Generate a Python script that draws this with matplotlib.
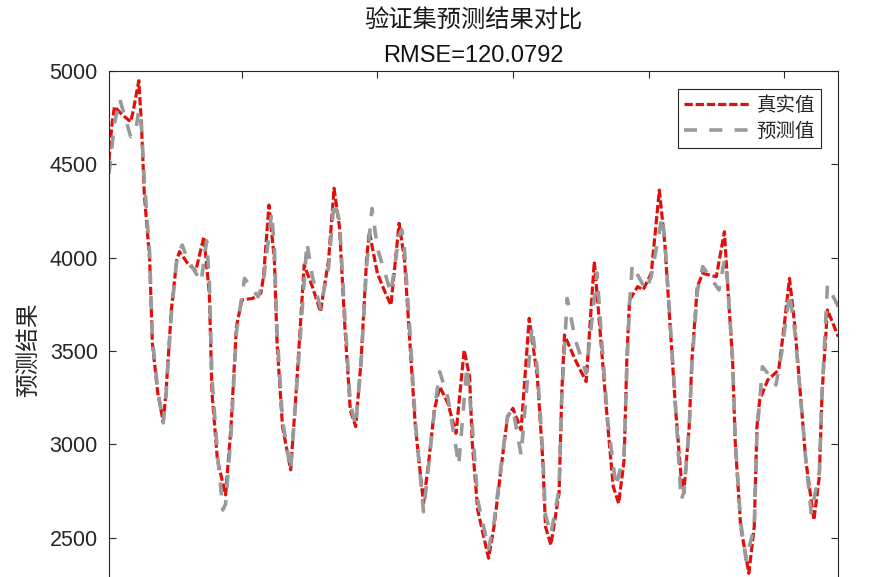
import matplotlib
matplotlib.use('Agg')
import matplotlib.pyplot as plt
from matplotlib.font_manager import FontProperties

plt.rcParams['font.family'] = ['Liberation Sans', 'Noto Sans CJK SC', 'DejaVu Sans']

# ---------------- data ----------------
x_true = [1, 2, 3, 6, 9, 10, 12, 13, 14, 16, 17, 19, 21, 22, 24, 26, 27, 30, 33, 36,
          38, 39, 41, 44, 46, 48, 50, 54, 57, 58, 60, 62, 63, 65, 68, 70, 73, 76, 79, 82,
          84, 86, 88, 90, 92, 94, 96, 97, 100, 103, 105, 108, 110, 112, 114, 117, 119, 121, 123, 126,
          129, 132, 134, 135, 137, 141, 143, 146, 148, 150, 153, 156, 159, 161, 162, 164, 167, 168, 169, 173,
          177, 180, 181, 183, 185, 187, 189, 191, 192, 193, 196, 198, 201, 204, 206, 208, 210, 212, 213, 215,
          216, 218, 220, 225, 228, 229, 231, 232, 234, 237, 239, 240, 241, 244, 248, 250, 252, 254, 256, 258,
          261, 263, 264, 266, 270]
y_true = [4523, 4702, 4809, 4764, 4728, 4791, 4948, 4702, 4345, 3988, 3541, 3273, 3121, 3273, 3720, 3988, 4032, 3970, 3930, 4112,
          3809, 3273, 2916, 2729, 3095, 3630, 3773, 3782, 3809, 3898, 4282, 3988, 3541, 3095, 2863, 3273, 3961, 3845, 3711, 3988,
          4372, 4166, 3630, 3184, 3095, 3452, 3988, 4139, 3916, 3809, 3746, 4184, 3988, 3541, 3095, 2684, 2916, 3184, 3309, 3220,
          3059, 3505, 3362, 3005, 2648, 2390, 2559, 2916, 3148, 3193, 3077, 3675, 3362, 2916, 2559, 2461, 2738, 3273, 3586, 3452,
          3336, 3979, 3809, 3452, 3095, 2773, 2684, 2916, 3452, 3773, 3845, 3827, 3916, 4362, 4077, 3630, 3184, 2827, 2738, 3095,
          3452, 3845, 3916, 3898, 4139, 3898, 3452, 3005, 2559, 2309, 2559, 3095, 3238, 3345, 3398, 3630, 3889, 3630, 3273, 2916,
          2595, 2827, 3273, 3720, 3577]

x_pred = [1, 2, 3, 5, 9, 11, 12, 13, 14, 16, 17, 19, 21, 22, 24, 26, 28, 30, 35, 37,
          38, 39, 41, 43, 44, 46, 48, 51, 56, 58, 61, 62, 63, 65, 68, 70, 74, 76, 79, 82,
          84, 86, 88, 90, 92, 94, 96, 98, 100, 105, 108, 109, 110, 112, 114, 117, 119, 121, 123, 126,
          130, 133, 135, 137, 141, 143, 146, 148, 150, 153, 157, 159, 161, 162, 164, 167, 168, 170, 173, 177,
          181, 183, 185, 188, 191, 192, 193, 194, 199, 201, 205, 206, 208, 210, 212, 213, 215, 216, 218, 220,
          226, 228, 229, 231, 232, 234, 236, 239, 240, 241, 242, 244, 247, 249, 252, 254, 256, 258, 260, 263,
          264, 266, 270]
y_pred = [4450, 4580, 4720, 4848, 4648, 4695, 4790, 4700, 4420, 4020, 3560, 3290, 3115, 3260, 3700, 3990, 4068, 3990, 3871, 4090,
          3880, 3350, 2950, 2648, 2680, 3050, 3600, 3889, 3790, 3880, 4240, 4050, 3600, 3130, 2860, 3260, 4080, 3900, 3730, 3950,
          4300, 4200, 3680, 3220, 3100, 3440, 3950, 4264, 4050, 3811, 4120, 4150, 4040, 3600, 3120, 2639, 2900, 3180, 3389, 3250,
          2889, 3416, 3100, 2700, 2440, 2580, 2930, 3150, 3190, 2943, 3630, 3400, 2950, 2620, 2520, 2760, 3250, 3782, 3560, 3381,
          3918, 3500, 3120, 2773, 2950, 3400, 3750, 3961, 3827, 3900, 4220, 4100, 3650, 3200, 2702, 2740, 3080, 3430, 3820, 3952,
          3827, 3987, 3900, 3460, 3020, 2580, 2380, 2560, 3060, 3230, 3416, 3380, 3318, 3480, 3810, 3600, 3270, 2920, 2632, 2850,
          3270, 3854, 3737]

series_labels = ['真实值', '预测值']
title_cn = '验证集预测结果对比'
title_rmse = 'RMSE=120.0792'
y_label = '预测结果'
y_ticks = [2500, 3000, 3500, 4000, 4500, 5000]
x_ticks = [50, 100, 150, 200, 250]

# ---------------- figure ----------------
W, H = 884, 577
fig = plt.figure(figsize=(W / 100, H / 100), dpi=100)
fig.patch.set_facecolor('white')

# axes: top at 71 px, y 2000..5000 spans 560 px (bottom cropped out of image)
ax = fig.add_axes([109 / W, (H - 631) / H, 729.3 / W, 560 / H])

ax.plot(x_true, y_true, color='#e0100c', lw=2.3, dashes=(2.6, 0.9), label=series_labels[0])
ax.plot(x_pred, y_pred, color='#9a9a9a', lw=2.6, dashes=(3.6, 3.4), label=series_labels[1])

ax.set_xlim(1, 270)
ax.set_ylim(2000, 5000)
ax.set_xticks(x_ticks)
ax.set_yticks(y_ticks)

axis_col = '#262626'
for sp in ax.spines.values():
    sp.set_color(axis_col)
    sp.set_linewidth(0.8)
ax.tick_params(direction='in', length=5, width=0.8, colors=axis_col,
               top=True, right=True, labelsize=15.5, pad=8)
# the bottom of the axes lies below the cropped image edge
ax.tick_params(axis='x', labelbottom=False)
for lab in ax.get_yticklabels():
    lab.set_fontfamily('Liberation Sans')

cjk = FontProperties(family='Noto Sans CJK SC')

ax.set_ylabel(y_label, fontproperties=cjk, fontsize=17, color=axis_col)
ax.yaxis.set_label_coords(28.5 / W, 1 - 350 / H, transform=fig.transFigure)
ax.yaxis.label.set_va('center')

fig.text(473.5 / W, 1 - 27.5 / H, title_cn, ha='center', va='baseline',
         fontproperties=cjk, fontsize=17.5, color='#1a1a1a')
fig.text(473.5 / W, 1 - 61.7 / H, title_rmse, ha='center', va='baseline',
         family='Liberation Sans', fontsize=17, color='#111111')

leg = ax.legend(loc='upper right', bbox_to_anchor=(821 / W, 1 - 89 / H),
                bbox_transform=fig.transFigure, borderaxespad=0,
                prop=FontProperties(family='Noto Sans CJK SC', size=14),
                fancybox=False, framealpha=1, edgecolor=axis_col,
                handlelength=3.4, handletextpad=0.35, borderpad=0.3,
                labelspacing=0.25)
leg.get_frame().set_linewidth(0.8)
for t in leg.get_texts():
    t.set_color(axis_col)

fig.savefig('out.png', dpi=100)
